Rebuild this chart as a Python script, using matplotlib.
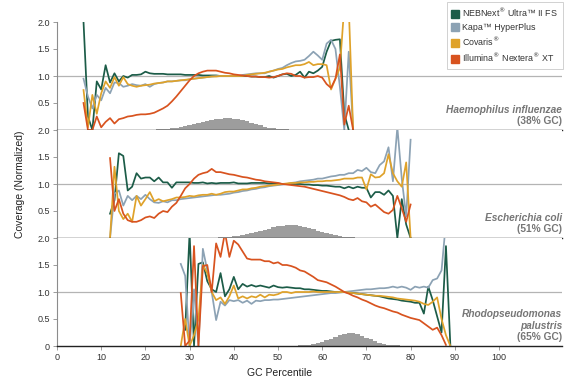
import matplotlib

matplotlib.use("Agg")
import matplotlib.pyplot as plt
import numpy as np
from matplotlib.lines import Line2D

plt.rcParams["font.family"] = ["Liberation Sans", "DejaVu Sans"]

# ---- data (normalized coverage per GC percentile) ----
HI_GC = list(range(6, 68))
HI_NEB = [2.0, 0.25, 0.0, 0.9, 0.75, 1.2, 0.88, 1.05, 0.9, 1.0,
          0.97, 1.02, 1.02, 1.03, 1.08, 1.05, 1.04, 1.04, 1.04, 1.03,
          1.03, 1.03, 1.03, 1.02, 1.02, 1.02, 1.02, 1.01, 1.01, 1.01,
          1.01, 1.0, 1.0, 1.0, 1.0, 1.0, 1.0, 1.0, 0.99, 0.99,
          0.98, 0.98, 1.0, 0.97, 1.0, 1.03, 1.04, 1.0, 1.02, 1.08,
          0.97, 1.08, 1.05, 1.1, 1.17, 1.45, 1.65, 1.67, 1.68, 0.3,
          0.0, None]
HI_KAPA = [0.95, 0.62, 0.4, 0.65, 0.55, 0.78, 0.68, 0.88, 0.87, 0.8,
           0.82, 0.85, 0.83, 0.82, 0.85, 0.8, 0.85, 0.87, 0.88, 0.9,
           0.9, 0.91, 0.92, 0.92, 0.94, 0.95, 0.96, 0.97, 0.98, 0.99,
           1.0, 1.0, 1.0, 1.0, 1.0, 1.0, 1.02, 1.03, 1.04, 1.05,
           1.05, 1.05, 1.08, 1.1, 1.13, 1.15, 1.2, 1.24, 1.27, 1.28,
           1.3, 1.37, 1.45, 1.38, 1.3, 1.6, 1.67, 1.5, 0.8, 0.0,
           1.45, 0.0]
HI_COV = [0.74, 0.05, 0.65, 0.3, 0.68, 0.9, 0.78, 0.98, 0.82, 0.98,
          0.85, 0.82, 0.8, 0.82, 0.83, 0.84, 0.86, 0.87, 0.88, 0.9,
          0.9, 0.91, 0.92, 0.93, 0.94, 0.95, 0.96, 0.97, 0.98, 0.99,
          0.99, 1.0, 1.0, 1.0, 1.0, 1.0, 1.0, 1.02, 1.03, 1.04,
          1.05, 1.06, 1.08, 1.1, 1.12, 1.13, 1.16, 1.18, 1.2, 1.2,
          1.22, 1.26, 1.2, 1.22, 1.22, 1.2, 0.75, 0.95, 1.15, 2.3,
          2.3, 0.0]
HI_ILL = [0.5, 0.0, 0.0, 0.25, 0.05, 0.15, 0.22, 0.12, 0.2, 0.22,
          0.25, 0.26, 0.28, 0.29, 0.29, 0.3, 0.32, 0.36, 0.4, 0.45,
          0.53, 0.62, 0.72, 0.82, 0.92, 1.0, 1.05, 1.08, 1.1, 1.1,
          1.1, 1.08, 1.06, 1.05, 1.03, 1.02, 1.01, 1.0, 0.99, 0.99,
          0.98, 0.98, 0.97, 0.98, 1.0, 1.03, 1.05, 1.04, 1.0, 1.0,
          0.97, 0.98, 0.98, 1.0, 0.97, 0.85, 0.78, 0.95, 1.4, 0.1,
          0.45, 0.0]
HI_HIST_GC = list(range(20, 56))
HI_HIST = [0.004, 0.006, 0.009, 0.013, 0.018, 0.025, 0.033, 0.045, 0.06, 0.075,
           0.092, 0.11, 0.128, 0.145, 0.16, 0.178, 0.195, 0.21, 0.222, 0.22,
           0.21, 0.2, 0.185, 0.16, 0.135, 0.11, 0.085, 0.062, 0.045, 0.032,
           0.022, 0.015, 0.01, 0.006, 0.004, 0.002]

EC_GC = list(range(12, 81))
EC_NEB = [0.45, 0.7, 1.57, 1.52, 0.88, 0.95, 1.2, 1.1, 1.12, 1.12,
          1.05, 1.12, 1.03, 1.03, 0.93, 1.03, 1.03, 1.03, 1.03, 1.02,
          1.02, 1.03, 1.01, 1.02, 1.01, 1.02, 1.02, 1.02, 1.03, 1.01,
          1.01, 1.01, 1.02, 1.02, 1.02, 1.02, 1.01, 1.01, 1.01, 1.0,
          1.0, 1.0, 1.0, 1.0, 0.99, 0.99, 0.98, 0.98, 0.97, 0.97,
          0.96, 0.95, 0.95, 0.92, 0.95, 0.92, 0.95, 0.93, 0.93, 0.75,
          0.85, 0.85, 0.8, 0.88, 0.78, 0.0, 0.72, 0.25, 0.0]
EC_KAPA = [0.0, 0.82, 0.88, 0.6, 0.78, 0.7, 0.78, 0.72, 0.8, 0.72,
           0.66, 0.65, 0.68, 0.66, 0.7, 0.7, 0.72, 0.73, 0.74, 0.75,
           0.76, 0.77, 0.78, 0.79, 0.8, 0.8, 0.81, 0.82, 0.84, 0.85,
           0.87, 0.88, 0.9, 0.91, 0.93, 0.94, 0.96, 0.97, 0.98, 0.99,
           1.0, 1.02, 1.03, 1.05, 1.06, 1.07, 1.08, 1.1, 1.1, 1.12,
           1.14, 1.15, 1.17, 1.17, 1.2, 1.2, 1.26, 1.24, 1.3, 1.22,
           1.2, 1.35, 1.42, 1.68, 1.05, 2.05, 1.1, 0.4, 1.82]
EC_COV = [0.0, 1.32, 0.5, 0.35, 0.45, 0.3, 0.78, 0.6, 0.72, 0.85,
          0.68, 0.72, 0.68, 0.7, 0.72, 0.75, 0.75, 0.76, 0.78, 0.77,
          0.79, 0.8, 0.8, 0.82, 0.8, 0.82, 0.85, 0.86, 0.86, 0.88,
          0.9, 0.9, 0.92, 0.93, 0.95, 0.96, 0.97, 0.98, 0.99, 1.0,
          1.01, 1.02, 1.02, 1.03, 1.03, 1.04, 1.04, 1.05, 1.05, 1.06,
          1.06, 1.07, 1.08, 1.1, 1.1, 1.1, 1.12, 1.12, 0.9, 1.18,
          1.12, 1.13, 1.2, 1.55, 1.2, 1.05, 0.95, 1.4, 0.0]
EC_ILL = [1.48, 0.5, 0.72, 0.45, 0.33, 0.3, 0.3, 0.33, 0.38, 0.4,
          0.37, 0.45, 0.5, 0.48, 0.58, 0.65, 0.78, 0.92, 1.0, 1.1,
          1.17, 1.2, 1.22, 1.28, 1.22, 1.22, 1.2, 1.18, 1.17, 1.15,
          1.13, 1.12, 1.1, 1.08, 1.07, 1.05, 1.04, 1.03, 1.02, 1.0,
          0.99, 0.98, 0.97, 0.96, 0.95, 0.93, 0.91, 0.89, 0.87, 0.85,
          0.83, 0.81, 0.79, 0.76, 0.72, 0.7, 0.74, 0.68, 0.66, 0.58,
          0.62, 0.55, 0.48, 0.45, 0.52, 0.78, 0.55, 0.3, 0.62]
EC_HIST_GC = list(range(33, 71))
EC_HIST = [0.002, 0.004, 0.006, 0.009, 0.013, 0.018, 0.024, 0.032, 0.042, 0.055,
           0.07, 0.088, 0.108, 0.13, 0.152, 0.175, 0.197, 0.215, 0.23, 0.24,
           0.243, 0.238, 0.225, 0.207, 0.185, 0.16, 0.135, 0.11, 0.087, 0.067,
           0.05, 0.036, 0.025, 0.017, 0.011, 0.007, 0.004, 0.002]

RP_GC = list(range(28, 90))
RP_NEB = [None, 0.3, 2.1, 0.0, 1.52, 1.55, 1.2, 1.05, 1.0, 1.35,
          0.92, 1.05, 1.28, 1.05, 1.15, 1.1, 1.13, 1.1, 1.12, 1.1,
          1.08, 1.12, 1.09, 1.08, 1.09, 1.08, 1.07, 1.07, 1.05, 1.05,
          1.04, 1.03, 1.02, 1.02, 1.01, 1.0, 1.0, 1.0, 0.99, 0.98,
          0.97, 0.96, 0.95, 0.94, 0.93, 0.92, 0.9, 0.88, 0.87, 0.86,
          0.84, 0.83, 0.82, 0.8, 0.8, 0.6, 1.1, 0.85, 0.55, 0.25,
          1.85, 0.0]
RP_KAPA = [1.52, 1.3, 0.0, 1.05, 0.0, 1.8, 1.4, 1.0, 0.48, 0.82,
           0.75, 0.85, 0.83, 0.85, 0.8, 0.84, 0.78, 0.84, 0.83, 0.85,
           0.85, 0.86, 0.86, 0.87, 0.88, 0.89, 0.9, 0.91, 0.92, 0.93,
           0.94, 0.95, 0.96, 0.97, 0.98, 0.98, 0.99, 1.0, 1.01, 1.02,
           1.03, 1.04, 1.05, 1.05, 1.06, 1.07, 1.07, 1.08, 1.1, 1.08,
           1.1, 1.08, 1.04, 1.1, 1.08, 1.1, 1.08, 1.22, 1.25, 1.4,
           2.3, None]
RP_COV = [0.0, 0.5, 0.0, 0.2, 0.5, 1.5, 1.35, 1.0, 0.85, 0.9,
          0.78, 0.92, 1.12, 0.88, 0.92, 0.88, 0.92, 0.9, 0.95, 0.9,
          0.95, 0.94, 0.96, 1.0, 1.0, 0.98, 1.0, 1.0, 1.0, 1.0,
          1.01, 1.0, 1.0, 1.0, 1.0, 1.0, 1.0, 1.0, 0.99, 0.98,
          0.97, 0.96, 0.95, 0.94, 0.93, 0.93, 0.92, 0.91, 0.9, 0.88,
          0.87, 0.86, 0.85, 0.84, 0.82, 0.78, 0.76, 0.82, 0.9, 0.5,
          0.2, 0.0]
RP_ILL = [0.98, 0.0, 0.1, 1.85, 0.0, 1.48, 1.5, 1.0, 1.9, 1.65,
          2.1, 1.65, 1.95, 1.88, 1.75, 1.62, 1.6, 1.6, 1.6, 1.57,
          1.57, 1.53, 1.55, 1.5, 1.5, 1.48, 1.45, 1.4, 1.38, 1.33,
          1.28, 1.22, 1.2, 1.18, 1.14, 1.1, 1.05, 1.0, 0.97, 0.93,
          0.9, 0.86, 0.83, 0.79, 0.75, 0.72, 0.7, 0.67, 0.64, 0.62,
          0.58, 0.55, 0.52, 0.5, 0.48, 0.42, 0.36, 0.3, 0.34, 0.2,
          0.02, None]
RP_HIST_GC = list(range(52, 81))
RP_HIST = [0.002, 0.004, 0.006, 0.01, 0.016, 0.025, 0.037, 0.055, 0.078, 0.105,
           0.135, 0.168, 0.2, 0.225, 0.238, 0.235, 0.218, 0.19, 0.157, 0.122,
           0.09, 0.063, 0.042, 0.027, 0.017, 0.01, 0.006, 0.003, 0.002]

KIT_NAMES = ["NEBNext$^{®}$ Ultra™ II FS", "Kapa™ HyperPlus",
             "Covaris$^{®}$", "Illumina$^{®}$ Nextera$^{®}$ XT"]
KIT_COLORS = ["#1c5c48", "#8ca2b4", "#dfa22a", "#d8531f"]

PANELS = [
    (HI_GC, [HI_NEB, HI_KAPA, HI_COV, HI_ILL], HI_HIST_GC, HI_HIST,
     ["Haemophilus influenzae"], "(38% GC)"),
    (EC_GC, [EC_NEB, EC_KAPA, EC_COV, EC_ILL], EC_HIST_GC, EC_HIST,
     ["Escherichia coli"], "(51% GC)"),
    (RP_GC, [RP_NEB, RP_KAPA, RP_COV, RP_ILL], RP_HIST_GC, RP_HIST,
     ["Rhodopseudomonas", "palustris"], "(65% GC)"),
]


def main():
    W, H = 575, 392
    fig = plt.figure(figsize=(W / 100, H / 100), dpi=100)

    left, right = 57, 562
    tops = [22, 130, 238]
    ph = 108
    xmax = (right - left) / 4.42

    for i, (gc, series, hgc, hist, names, gc_label) in enumerate(PANELS):
        top = tops[i]
        ax = fig.add_axes([left / W, 1 - (top + ph) / H, (right - left) / W, ph / H])

        # GC distribution of the genome, drawn as a stepped grey area
        ax.fill_between(hgc, hist, step="mid", color="#9d9d9d", linewidth=0, zorder=1)
        ax.axhline(1.0, color="#b4b4b4", lw=0.9, zorder=2)
        for vals, color in zip(series, KIT_COLORS):
            ax.plot(gc, np.array(vals, dtype=float), color=color, lw=1.25, zorder=3)

        ax.set_xlim(0, xmax)
        ax.set_ylim(0, 2)
        for side in ("top", "right"):
            ax.spines[side].set_visible(False)
        ax.spines["left"].set_color("#8c8c8c")
        ax.spines["left"].set_linewidth(0.8)
        ax.spines["bottom"].set_color("#222222")
        ax.spines["bottom"].set_linewidth(1.0)
        ax.spines["bottom"].set_zorder(4)

        if i < 2:
            ax.set_yticks([0.5, 1.0, 1.5, 2.0])
            ax.set_yticklabels(["0.5", "1.0", "1.5", "2.0"])
            ax.set_xticks([])
        else:
            ax.set_yticks([0, 0.5, 1.0, 1.5, 2.0])
            ax.set_yticklabels(["0", "0.5", "1.0", "1.5", "2.0"])
            ax.set_xticks(range(0, 101, 10))
        ax.tick_params(axis="both", direction="out", length=3, width=0.6,
                       color="#8c8c8c", labelsize=6.5, labelcolor="#333333", pad=2)

        # species label, bottom right
        lines = names + [gc_label]
        n = len(lines)
        for k, txt in enumerate(lines):
            y = 0.08 + (n - 1 - k) * 0.108
            is_name = k < n - 1
            ax.text(1.0, y, txt, transform=ax.transAxes, ha="right", va="center",
                    fontsize=7.3, color="#767676", weight="bold",
                    style="italic" if is_name else "normal", zorder=5)

    fig.text(20 / W, 1 - 184 / H, "Coverage (Normalized)", rotation=90,
             ha="center", va="center", fontsize=7.5, color="#222222")
    fig.text(280 / W, 1 - 373 / H, "GC Percentile", ha="center", va="center",
             fontsize=7.5, color="#222222")

    handles = [Line2D([], [], marker="s", linestyle="none", markersize=6,
                      markerfacecolor=c, markeredgecolor=c) for c in KIT_COLORS]
    leg = fig.legend(handles, KIT_NAMES, loc="upper right",
                     bbox_to_anchor=(563 / W, 1 - 2 / H), fontsize=6.4,
                     frameon=True, fancybox=False, handlelength=0.8,
                     handletextpad=0.4, borderpad=0.55, labelspacing=0.42,
                     borderaxespad=0)
    leg.get_frame().set_edgecolor("#bdbdbd")
    leg.get_frame().set_linewidth(0.6)
    for t in leg.get_texts():
        t.set_color("#333333")

    fig.savefig("out.png", dpi=100)


if __name__ == "__main__":
    main()
